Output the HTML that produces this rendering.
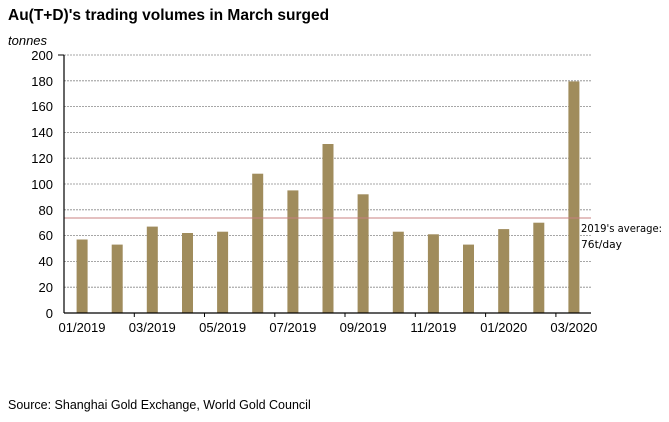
<!DOCTYPE html>
<html><head><style>body{margin:0;background:#fff}</style></head><body>
<svg width="669" height="417" xmlns="http://www.w3.org/2000/svg" font-family="Liberation Sans, sans-serif">
<rect width="669" height="417" fill="#fff"/>
<text x="8" y="20" font-size="15.5" font-weight="bold" fill="#000">Au(T+D)'s trading volumes in March surged</text>
<text x="8" y="45" font-size="13" font-style="italic">tonnes</text>
<g stroke="#888" stroke-width="0.8" stroke-dasharray="2,1">
<line x1="64" x2="591" y1="55" y2="55"/><line x1="64" x2="591" y1="80.8" y2="80.8"/><line x1="64" x2="591" y1="106.6" y2="106.6"/><line x1="64" x2="591" y1="132.4" y2="132.4"/><line x1="64" x2="591" y1="158.2" y2="158.2"/><line x1="64" x2="591" y1="184" y2="184"/><line x1="64" x2="591" y1="209.8" y2="209.8"/><line x1="64" x2="591" y1="235.6" y2="235.6"/><line x1="64" x2="591" y1="261.4" y2="261.4"/><line x1="64" x2="591" y1="287.2" y2="287.2"/>
</g>
<g font-size="13" text-anchor="end">
<text x="53" y="60">200</text><text x="53" y="86">180</text><text x="53" y="111">160</text><text x="53" y="137">140</text><text x="53" y="163">120</text><text x="53" y="189">100</text><text x="53" y="215">80</text><text x="53" y="240">60</text><text x="53" y="266">40</text><text x="53" y="292">20</text><text x="53" y="318">0</text>
</g>
<g fill="#a08c5c">
<rect x="76.6" y="239.5" width="11" height="73.5"/>
<rect x="111.7" y="244.6" width="11" height="68.4"/>
<rect x="146.8" y="226.6" width="11" height="86.4"/>
<rect x="182" y="233" width="11" height="80"/>
<rect x="217.1" y="231.7" width="11" height="81.3"/>
<rect x="252.2" y="173.7" width="11" height="139.3"/>
<rect x="287.4" y="190.4" width="11" height="122.6"/>
<rect x="322.5" y="144" width="11" height="169"/>
<rect x="357.6" y="194.3" width="11" height="118.7"/>
<rect x="392.8" y="231.7" width="11" height="81.3"/>
<rect x="427.9" y="234.3" width="11" height="78.7"/>
<rect x="463" y="244.6" width="11" height="68.4"/>
<rect x="498.2" y="229.1" width="11" height="83.9"/>
<rect x="533.3" y="222.7" width="11" height="90.3"/>
<rect x="568.4" y="81.4" width="11" height="231.6"/>
</g>
<line x1="64" x2="591" y1="218" y2="218" stroke="#c88080" stroke-width="1"/>
<line x1="64" x2="64" y1="55" y2="313" stroke="#000" stroke-width="1.2"/>
<line x1="58" x2="64" y1="55" y2="55" stroke="#000"/>
<line x1="64" x2="591" y1="313" y2="313" stroke="#000" stroke-width="1.2"/>
<g stroke="#000"><line x1="134.3" x2="134.3" y1="313" y2="317"/><line x1="204.5" x2="204.5" y1="313" y2="317"/><line x1="274.8" x2="274.8" y1="313" y2="317"/><line x1="345" x2="345" y1="313" y2="317"/><line x1="415.3" x2="415.3" y1="313" y2="317"/><line x1="485.6" x2="485.6" y1="313" y2="317"/><line x1="555.9" x2="555.9" y1="313" y2="317"/></g>
<g font-size="13" text-anchor="middle">
<text x="82" y="332">01/2019</text><text x="152.3" y="332">03/2019</text><text x="222.6" y="332">05/2019</text><text x="292.9" y="332">07/2019</text><text x="363.1" y="332">09/2019</text><text x="433.4" y="332">11/2019</text><text x="503.7" y="332">01/2020</text><text x="573.9" y="332">03/2020</text>
</g>
<text x="581" y="232" font-size="11" font-family="DejaVu Sans, sans-serif" textLength="81" lengthAdjust="spacingAndGlyphs">2019's average:</text>
<text x="581" y="248" font-size="11" font-family="DejaVu Sans, sans-serif" textLength="41" lengthAdjust="spacingAndGlyphs">76t/day</text>
<text x="8" y="409" font-size="12.5">Source: Shanghai Gold Exchange, World Gold Council</text>
</svg>
</body></html>
